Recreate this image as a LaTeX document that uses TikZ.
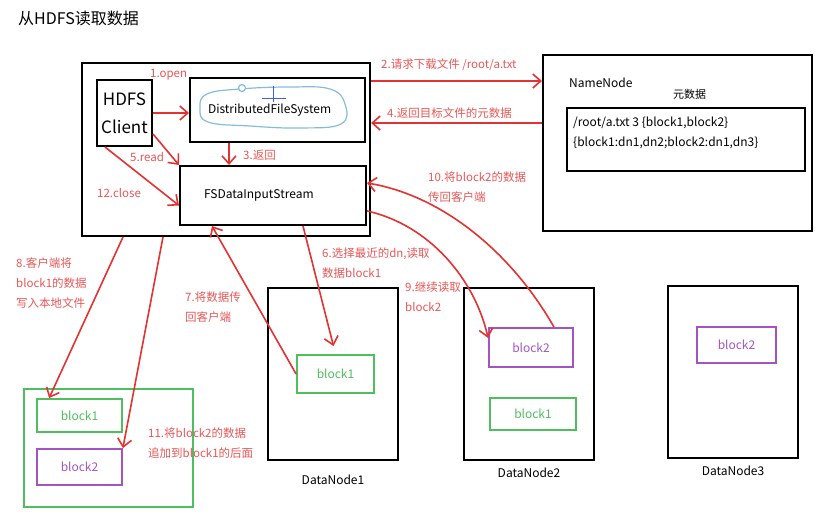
\documentclass[tikz,border=0pt]{standalone}
\usepackage{fontspec}
\setmainfont{Noto Sans CJK SC}
\usetikzlibrary{arrows.meta, positioning}
\definecolor{arrred}{RGB}{226,50,50}
\definecolor{txtred}{RGB}{232,86,86}
\definecolor{blkgreen}{RGB}{78,190,94}
\definecolor{blkpurple}{RGB}{164,84,192}
\definecolor{penblue}{RGB}{132,188,218}

\begin{document}
\begin{tikzpicture}[x=1pt,y=-1pt,
	box/.style={draw=black, line width=2pt, inner sep=0pt},
	greenbox/.style={draw=blkgreen, line width=1.8pt, inner sep=0pt, text=blkgreen, font=\fontsize{12}{14}\selectfont},
	purplebox/.style={draw=blkpurple, line width=1.8pt, inner sep=0pt, text=blkpurple, font=\fontsize{12}{14}\selectfont},
	txt/.style={inner sep=0pt, font=\fontsize{12}{14}\selectfont},
	redtxt/.style={inner sep=0pt, anchor=west, align=left, text=txtred, font=\fontsize{11.5}{20}\selectfont},
	redarr/.style={draw=arrred, line width=1.6pt, -{Straight Barb[length=8pt,width=14pt]}}]
			\useasboundingbox (0,0) rectangle (840,519);
			\node[txt, anchor=west, font=\fontsize{16}{18}\selectfont] (T) at (18,18) {从HDFS读取数据};
			
			% client side
			\node[box, minimum width=288pt, minimum height=173pt] (CL) at (226,149.5) {};
			\node[box, align=center, font=\fontsize{17}{28}\selectfont, minimum width=55pt, minimum height=66pt] (HC) at (124.5,113) {HDFS\\Client};
			\node[box, align=left, text width=139pt, inner xsep=18pt, minimum height=64pt, font=\fontsize{12}{14}\selectfont] (DFS) at (277.5,110) {DistributedFileSystem};
			\draw[penblue, line width=1.2pt] plot[smooth cycle, tension=0.7] coordinates {(200,108) (207,94) (240,89) (290,87) (330,89) (345,104) (341,124) (300,128) (250,126) (208,122)};
			\draw[penblue, line width=1.2pt, fill=white] (242,88) circle (3.5pt);
			\draw[penblue!50!blue, line width=0.8pt] (273,86) -- (273,102) (262,98) -- (286,98);
			\node[box, align=left, text width=138pt, inner xsep=24pt, minimum height=59pt, font=\fontsize{12}{14}\selectfont] (FS) at (273,195.5) {FSDataInputStream};
			
			% namenode
			\node[box, minimum width=269pt, minimum height=176pt] (NN) at (677.5,143) {};
			\node[txt, anchor=west] (NNt) at (569,83) {NameNode};
			\node[txt, anchor=west, font=\fontsize{11}{13}\selectfont] (MDl) at (673,94) {元数据};
			\node[box, minimum width=238pt, minimum height=63pt] (MD) at (686,139.5) {};
			\node[txt, anchor=west, align=left, font=\fontsize{12}{20}\selectfont] (MDt) at (573,133) {/root/a.txt 3 \{block1,block2\}\\\{block1:dn1,dn2;block2:dn1,dn3\}};
			
			% datanodes
			\node[box, minimum width=130pt, minimum height=172pt] (DN1) at (333,374) {};
			\node[box, minimum width=130pt, minimum height=172pt] (DN2) at (529,374) {};
			\node[box, minimum width=130pt, minimum height=172pt] (DN3) at (733,372) {};
			\node[txt, below=14pt of DN1] (DN1t) {DataNode1};
			\node[txt, below=7pt of DN2] (DN2t) {DataNode2};
			\node[txt, below=7pt of DN3] (DN3t) {DataNode3};
			\node[greenbox, minimum width=77pt, minimum height=38pt] (B1a) at (335.5,374) {block1};
			\node[purplebox, minimum width=84pt, minimum height=39pt] (B2b) at (531,347.5) {block2};
			\node[greenbox, minimum width=86pt, minimum height=32pt] (B1b) at (533,414) {block1};
			\node[purplebox, minimum width=79pt, minimum height=36pt] (B2c) at (736.5,345) {block2};
			
			% local file
			\node[greenbox, minimum width=169pt, minimum height=118pt] (LC) at (108.5,448) {};
			\node[greenbox, minimum width=85pt, minimum height=33pt] (L1) at (79.5,415.5) {block1};
			\node[purplebox, minimum width=85pt, minimum height=36pt] (L2) at (79.5,467) {block2};
			
			\node[redtxt] (lab1) at (150,75) {1.open};
			\node[redtxt] (lab2) at (381,65) {2.请求下载文件 /root/a.txt};
			\node[redtxt] (lab3) at (243,155) {3.返回};
			\node[redtxt] (lab4) at (387,113) {4.返回目标文件的元数据};
			\node[redtxt] (lab5) at (130,157) {5.read};
			\node[redtxt] (lab6) at (322,263.5) {6.选择最近的dn,读取\\数据block1};
			\node[redtxt] (lab7) at (185,307) {7.将数据传\\回客户端};
			\node[redtxt] (lab8) at (16,283) {8.客户端将\\block1的数据\\写入本地文件};
			\node[redtxt] (lab9) at (405,297) {9.继续读取\\block2};
			\node[redtxt] (lab10) at (428,187) {10.将block2的数据\\传回客户端};
			\node[redtxt] (lab11) at (148,443) {11.将block2的数据\\追加到block1的后面};
			\node[redtxt] (lab12) at (97,193) {12.close};
			
			\draw [redarr] (HC.east) -- (HC.east -| DFS.west);
			\draw [redarr] ([yshift=-19pt]CL.north east) -- ([yshift=-19pt]CL.north east -| NN.west);
			\draw [redarr] ([xshift=-48.5pt]DFS.south) -- ([xshift=-48.5pt]DFS.south |- FS.north);
			\draw [redarr] ([yshift=20pt]NN.west) -- ([yshift=20pt]NN.west -| CL.east);
			\draw [redarr] ([yshift=13pt]HC.south east) -- (FS.north west);
			\draw [redarr] ([xshift=30pt]FS.south) -- ([xshift=-2pt,yshift=8pt]B1a.north);
			\draw [redarr] (B1a.west) -- ([xshift=-61pt]FS.south);
			\draw [redarr] ([xshift=-103pt]CL.south) -- ([xshift=13pt]L1.north west);
			\draw [redarr] ([yshift=-15.5pt]FS.east) .. controls (430,225) and (475,280) .. ([yshift=9.5pt]B2b.west);
			\draw [redarr] ([xshift=23pt]B2b.north) .. controls (510,250) and (440,195) .. ([yshift=12.5pt]FS.east);
			\draw [redarr] ([xshift=-63pt]CL.south) -- (L2.north east);
			\draw [redarr] ([xshift=9pt]HC.south west) -- ([yshift=-10pt]FS.west);
\end{tikzpicture}
\end{document}
